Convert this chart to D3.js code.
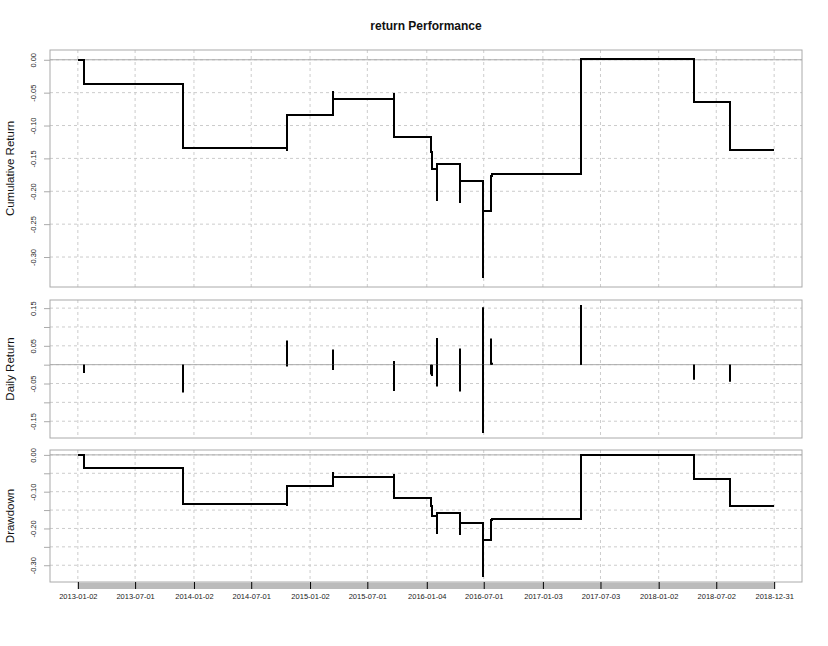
<!DOCTYPE html>
<html lang="en">
<head>
<meta charset="UTF-8" />
<title>return Performance</title>
<style>
  body { margin: 0; background: #fff; }
  text { font-family: "Liberation Sans", Arial, Helvetica, sans-serif; }
</style>
</head>
<body>
<svg class="perf" width="828" height="646"></svg>

<script src="https://d3js.org/d3.v7.min.js"></script>
<script>
  // series limits
  const startDate = "2013-01-02";
  const endDate = "2018-12-31";

  // days with a non-zero return (everything else is 0)
  const tradeDates = [
    "2013-01-21", "2013-01-22",
    "2013-11-27", "2013-11-29",
    "2014-10-20", "2014-10-21",
    "2015-03-15", "2015-03-16",
    "2015-09-22", "2015-09-23",
    "2016-01-18", "2016-01-21",
    "2016-02-04", "2016-02-05",
    "2016-04-17", "2016-04-18",
    "2016-06-29", "2016-06-30",
    "2016-07-25", "2016-07-26",
    "2017-05-02", "2017-05-03",
    "2018-04-23", "2018-04-24",
    "2018-08-13", "2018-08-14"
  ];
  const dailyReturns = [
    -0.022, -0.0145,
    -0.074, -0.030,
    -0.005, 0.064,
    0.040, -0.014,
    0.010, -0.070,
    -0.026, -0.030,
    -0.058, 0.071,
    -0.071, 0.043,
    -0.181, 0.152,
    0.0695, 0.005,
    0.158, 0.046,
    -0.040, -0.026,
    -0.045, -0.035
  ];

  // x axis tick labels
  const xTickLabels = [
    "2013-01-02", "2013-07-01", "2014-01-02", "2014-07-01", "2015-01-02",
    "2015-07-01", "2016-01-04", "2016-07-01", "2017-01-03", "2017-07-03",
    "2018-01-02", "2018-07-02", "2018-12-31"
  ];

  // y grid / tick values and which of them get a label
  const cumTicks = [0, -0.05, -0.10, -0.15, -0.20, -0.25, -0.30];
  const cumLabels = ["0.00", "-0.05", "-0.10", "-0.15", "-0.20", "-0.25", "-0.30"];
  const dailyTicks = [0.15, 0.10, 0.05, 0, -0.05, -0.10, -0.15];
  const dailyLabels = ["0.15", "", "0.05", "", "-0.05", "", "-0.15"];
  const ddTicks = [0, -0.05, -0.10, -0.15, -0.20, -0.25, -0.30];
  const ddLabels = ["0.00", "", "-0.10", "", "-0.20", "", "-0.30"];

  const parse = d3.timeParse("%Y-%m-%d");

  // build the series: cumulative return and drawdown from daily returns
  let wealth = 1, peak = 1;
  const series = [{ date: parse(startDate), r: 0, cum: 0, dd: 0 }];
  tradeDates.forEach((d, i) => {
    wealth *= 1 + dailyReturns[i];
    peak = Math.max(peak, wealth);
    series.push({ date: parse(d), r: dailyReturns[i], cum: wealth - 1, dd: wealth / peak - 1 });
  });
  series.push({ date: parse(endDate), r: 0, cum: wealth - 1, dd: wealth / peak - 1 });

  const svg = d3.select(".perf");
  const left = 50, right = 802;

  // R style axis range: data range padded by 4% each side
  function padded(ext) {
    const r = ext[1] - ext[0];
    return [ext[0] - 0.04 * r, ext[1] + 0.04 * r];
  }

  const t0 = parse(startDate), t1 = parse(endDate);
  const span = t1 - t0;
  const x = d3.scaleTime()
    .domain([new Date(+t0 - 0.04 * span), new Date(+t1 + 0.04 * span)])
    .range([left, right]);
  const px = d => Math.round(x(d)); // snap to pixels so 2px lines stay crisp

  const xTicks = xTickLabels.map(parse);

  // title
  svg.append("text")
    .attr("x", (left + right) / 2)
    .attr("y", 30)
    .attr("text-anchor", "middle")
    .attr("font-size", 12)
    .attr("font-weight", "bold")
    .attr("fill", "#111")
    .text("return Performance");

  function panel(top, bottom, ext, ticks, labels, title) {
    const y = d3.scaleLinear().domain(padded(ext)).range([bottom, top]);
    const g = svg.append("g");

    // grid
    g.selectAll(".hgrid")
      .data(ticks)
      .join("line")
      .attr("x1", left).attr("x2", right)
      .attr("y1", d => y(d)).attr("y2", d => y(d))
      .attr("stroke", "#cccccc")
      .attr("stroke-dasharray", "3,3");
    g.selectAll(".vgrid")
      .data(xTicks)
      .join("line")
      .attr("x1", d => x(d)).attr("x2", d => x(d))
      .attr("y1", top).attr("y2", bottom)
      .attr("stroke", "#cccccc")
      .attr("stroke-dasharray", "3,3");

    // zero line
    g.append("line")
      .attr("x1", left).attr("x2", right)
      .attr("y1", y(0)).attr("y2", y(0))
      .attr("stroke", "#aaaaaa");

    // y axis
    const ax = g.append("g")
      .attr("transform", `translate(${left},0)`)
      .call(d3.axisLeft(y).tickValues(ticks).tickSize(6).tickFormat((d, i) => labels[i]));
    ax.select(".domain").remove();
    ax.selectAll(".tick line").attr("stroke", "#aaaaaa");
    ax.selectAll(".tick text")
      .attr("transform", "rotate(-90)")
      .attr("x", 0)
      .attr("y", -14.5)
      .attr("dy", 0)
      .attr("text-anchor", "middle")
      .attr("font-size", 7.5)
      .attr("font-family", "Liberation Sans, Arial, sans-serif")
      .attr("fill", "#222");

    // box
    g.append("rect")
      .attr("x", left).attr("y", top)
      .attr("width", right - left).attr("height", bottom - top)
      .attr("fill", "none")
      .attr("stroke", "#aaaaaa");

    // y title
    g.append("text")
      .attr("transform", `translate(14,${(top + bottom) / 2}) rotate(-90)`)
      .attr("text-anchor", "middle")
      .attr("font-size", 11.5)
      .attr("fill", "#111")
      .text(title);

    return { g, y };
  }

  // cumulative return
  const p1 = panel(50, 287, d3.extent(series, d => d.cum), cumTicks, cumLabels, "Cumulative Return");
  p1.g.append("path")
    .datum(series)
    .attr("fill", "none")
    .attr("stroke", "#000")
    .attr("stroke-width", 2)
    .attr("d", d3.line().x(d => px(d.date)).y(d => Math.round(p1.y(d.cum))).curve(d3.curveStepAfter));

  // daily return
  const p2 = panel(300, 438, d3.extent(series, d => d.r), dailyTicks, dailyLabels, "Daily Return");
  p2.g.selectAll(".bar")
    .data(series.filter(d => d.r !== 0))
    .join("line")
    .attr("x1", d => px(d.date)).attr("x2", d => px(d.date))
    .attr("y1", p2.y(0)).attr("y2", d => p2.y(d.r))
    .attr("stroke", "#000")
    .attr("stroke-width", 2);

  // drawdown
  const p3 = panel(450, 582, d3.extent(series, d => d.dd), ddTicks, ddLabels, "Drawdown");
  p3.g.append("path")
    .datum(series)
    .attr("fill", "none")
    .attr("stroke", "#000")
    .attr("stroke-width", 2)
    .attr("d", d3.line().x(d => px(d.date)).y(d => Math.round(p3.y(d.dd))).curve(d3.curveStepAfter));

  // x axis: grey band with date ticks
  svg.append("rect")
    .attr("x", x(t0)).attr("y", 582.5)
    .attr("width", x(t1) - x(t0)).attr("height", 6.5)
    .attr("fill", "#bbbbbb");
  const xa = svg.append("g")
    .attr("transform", "translate(0,582)")
    .call(d3.axisBottom(x).tickValues(xTicks).tickSize(7).tickFormat(d3.timeFormat("%Y-%m-%d")));
  xa.select(".domain").remove();
  xa.selectAll(".tick line").attr("stroke", "#000");
  xa.selectAll(".tick text")
    .attr("y", 16.5)
    .attr("dy", 0)
    .attr("font-size", 7.5)
    .attr("font-family", "Liberation Sans, Arial, sans-serif")
    .attr("fill", "#222");
</script>
</body>
</html>
